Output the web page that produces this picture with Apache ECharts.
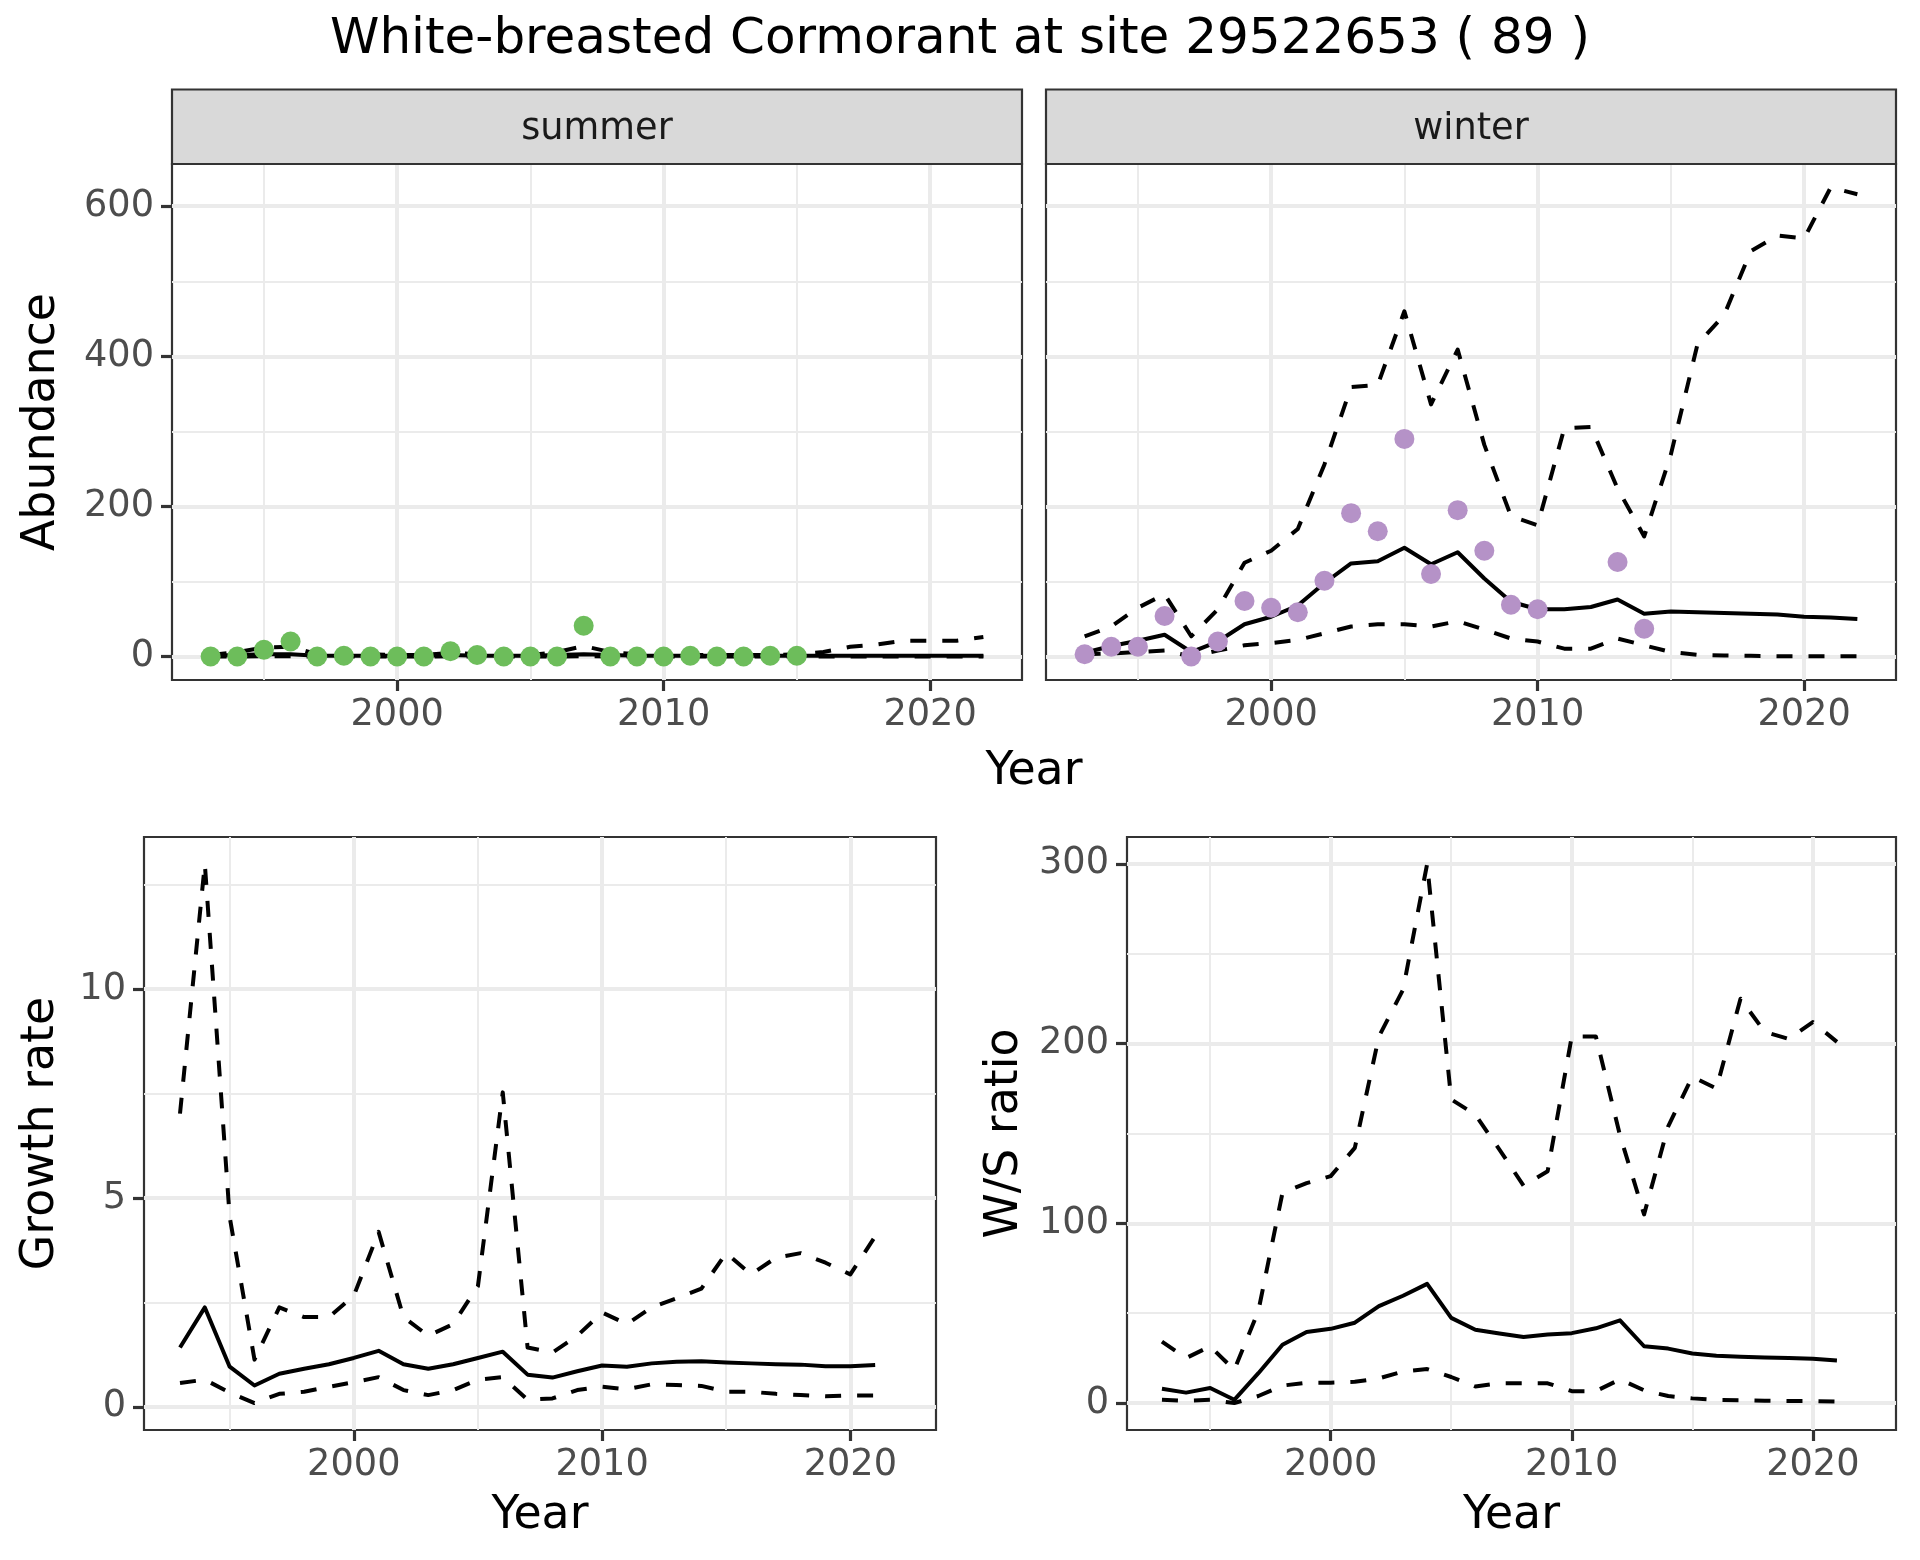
<!DOCTYPE html>
<html>
<head>
<meta charset="utf-8">
<script src="https://cdn.jsdelivr.net/npm/echarts@6/dist/echarts.min.js"></script>
<style>html,body{margin:0;padding:0;background:#fff}#c{width:1920px;height:1560px}</style>
</head>
<body>
<div id="c"></div>
<script>
// ---------------- data ----------------
const titleText = 'White-breasted Cormorant at site 29522653 ( 89 )';
const xRange = [1993, 2022];
const years = [1993,1994,1995,1996,1997,1998,1999,2000,2001,2002,2003,2004,2005,2006,2007,2008,2009,2010,2011,2012,2013,2014,2015,2016,2017,2018,2019,2020,2021,2022];
const yearsRatio = years.slice(0, 29); // 1993-2021

const xMajorTicks = [2000, 2010, 2020];
const xMinorTicks = [1995, 2005, 2015];
const abundMajorTicks = [0, 200, 400, 600];
const abundMinorTicks = [100, 300, 500];
const growthMajorTicks = [0, 5, 10];
const growthMinorTicks = [2.5, 7.5, 12.5];
const wsMajorTicks = [0, 100, 200, 300];
const wsMinorTicks = [50, 150, 250];

// summer
const summerPointYears = [1993,1994,1995,1996,1997,1998,1999,2000,2001,2002,2003,2004,2005,2006,2007,2008,2009,2010,2011,2012,2013,2014,2015];
const summerPointValues = [0,0,9,20,0,1,0,0,0,7,2,0,0,0,41,0,0,0,1,0,0,1,1];
const summerMedian = [1,2,3,3,1,1,1,1,1,2,1,1,1,2,3,2,1,1,1,1,1,1,1,1,1,1,1,1,1,1];
const summerUpper  = [2,6,12,13,3,3,3,2,2,5,3,2,2,6,14,6,3,2,2,2,2,2,3,6,13,16,21,21,21,26];
const summerLower  = [0,0,0.5,0.5,0,0,0,0,0,0.3,0,0,0,0,0.5,0,0,0,0,0,0,0,0,0,0,0,0,0,0,0];

// winter
const winterPointYears = [1993,1994,1995,1996,1997,1998,1999,2000,2001,2002,2003,2004,2005,2006,2007,2008,2009,2010,2013,2014];
const winterPointValues = [3,13,13,54,0,20,74,65,59,101,191,167,290,110,195,141,69,63,126,37];
const winterMedian = [5,14,21,29,6,20,43,53,68,98,124,127,145,123,139,104,73,63,63,66,76,57,60,59,58,57,56,53,52,50];
const winterUpper  = [27,40,65,83,27,63,125,141,170,256,359,362,460,336,409,282,187,175,304,306,224,160,269,416,455,540,561,557,625,616];
const winterLower  = [3,4,6,8,0,8,15,18,22,31,40,43,43,40,47,36,24,20,10.5,10.5,24,15,6,2.3,1.4,1,0.5,0.5,0.5,0.5];

// growth rate (1993-2021)
const growthMedian = [1.42,2.38,0.96,0.51,0.79,0.91,1.02,1.17,1.34,1.02,0.91,1.02,1.17,1.32,0.77,0.70,0.85,0.99,0.96,1.04,1.08,1.09,1.06,1.04,1.02,1.01,0.97,0.97,1.00];
const growthUpper  = [7.02,13.0,4.55,1.13,2.38,2.15,2.15,2.66,4.19,2.15,1.70,1.98,2.89,7.53,1.42,1.30,1.70,2.26,1.98,2.38,2.60,2.83,3.68,3.17,3.57,3.68,3.45,3.17,4.08];
const growthLower  = [0.57,0.65,0.34,0.09,0.31,0.36,0.48,0.59,0.71,0.40,0.28,0.40,0.65,0.71,0.17,0.20,0.40,0.48,0.42,0.54,0.52,0.50,0.36,0.36,0.31,0.28,0.25,0.27,0.27];

// W/S ratio (1993-2021)
const wsMedian = [7.9,5.8,8.4,1.8,16.6,32.4,39.5,41.3,44.7,53.9,59.7,66.3,47.4,40.8,38.7,36.8,38.2,38.9,41.6,46.0,31.6,30.3,27.6,26.3,25.8,25.3,25.0,24.7,23.7];
const wsUpper  = [34.2,25,31.6,18.4,51.3,117,122.4,126.3,142,204,230,300,169,160.5,141,121,129,204,204,149,105,154,181.6,175,225,206.6,202.6,212,201];
const wsLower  = [1.8,1.3,1.8,0,3.9,9.7,11.3,11.3,11.8,13.7,17.6,18.9,14.5,9.2,11,11,11,6.6,6.6,13.2,7.1,3.9,2.6,1.8,1.6,1.3,1.1,1.1,0.8];

// ---------------- helpers ----------------
function expandRange(arrays) {
  let lo = Infinity, hi = -Infinity;
  arrays.forEach(a => a.forEach(v => { if (v < lo) lo = v; if (v > hi) hi = v; }));
  const pad = (hi - lo) * 0.05;
  return [lo - pad, hi + pad];
}
const xR = expandRange([xRange]);
const abundR = expandRange([summerPointValues, summerMedian, summerUpper, summerLower, winterPointValues, winterMedian, winterUpper, winterLower]);
const growthR = expandRange([growthMedian, growthUpper, growthLower]);
const wsR = expandRange([wsMedian, wsUpper, wsLower]);

const pairs = (xs, ys) => xs.map((x, i) => [x, ys[i]]);
const plain = v => String(v);
const FONT = 'DejaVu Sans';
const GRID_MAJOR = '#EBEBEB';
const DARK = '#333333';
const LABEL = '#4D4D4D';
const GREEN = '#6DBD5B';
const PURPLE = '#B592C7';
const DASH = [16, 16];
const AXIS_TEXT = 36.7;
const AXIS_TITLE = 45.8;

const grids = [
  {left: 172, top: 164, width: 850, height: 516},
  {left: 1046, top: 164, width: 850, height: 516},
  {left: 144, top: 837, width: 792, height: 593},
  {left: 1127, top: 837, width: 769, height: 593}
].map(g => Object.assign({show: true, borderColor: DARK, borderWidth: 2.2, backgroundColor: '#fff', containLabel: false, outerBoundsMode: 'none'}, g));

const yConf = [
  {r: abundR, major: abundMajorTicks, minor: abundMinorTicks, labels: true, name: 'Abundance', gap: 106.5},
  {r: abundR, major: abundMajorTicks, minor: abundMinorTicks, labels: false, name: '', gap: 0},
  {r: growthR, major: growthMajorTicks, minor: growthMinorTicks, labels: true, name: 'Growth rate', gap: 79.5},
  {r: wsR, major: wsMajorTicks, minor: wsMinorTicks, labels: true, name: 'W/S ratio', gap: 98.5}
];
const xNames = ['', '', 'Year', 'Year'];

const xAxes = [], yAxes = [];
for (let i = 0; i < 4; i++) {
  xAxes.push({
    type: 'value', gridIndex: i, position: 'bottom', min: xR[0], max: xR[1],
    axisLine: {show: false, onZero: false},
    axisTick: {show: true, length: 11, lineStyle: {color: DARK, width: 3.2}, customValues: xMajorTicks},
    axisLabel: {show: true, customValues: xMajorTicks, formatter: plain, margin: 17, fontSize: AXIS_TEXT, color: LABEL, fontFamily: FONT},
    splitLine: {show: true, lineStyle: {color: GRID_MAJOR, width: 4}},
    name: xNames[i], nameLocation: 'middle', nameGap: 63,
    nameTextStyle: {fontSize: AXIS_TITLE, color: '#000', fontFamily: FONT}
  });
  xAxes.push({
    type: 'value', gridIndex: i, position: 'top', min: xR[0], max: xR[1],
    axisLine: {show: false, onZero: false},
    axisTick: {show: false, customValues: xMinorTicks},
    axisLabel: {show: false, customValues: xMinorTicks},
    splitLine: {show: true, lineStyle: {color: GRID_MAJOR, width: 2}}
  });
  const c = yConf[i];
  yAxes.push({
    type: 'value', gridIndex: i, position: 'left', min: c.r[0], max: c.r[1],
    axisLine: {show: false, onZero: false},
    axisTick: {show: c.labels, length: 11, lineStyle: {color: DARK, width: 3.2}, customValues: c.major},
    axisLabel: {show: c.labels, customValues: c.major, formatter: plain, margin: 18, fontSize: AXIS_TEXT, color: LABEL, fontFamily: FONT},
    splitLine: {show: true, lineStyle: {color: GRID_MAJOR, width: 4}},
    name: c.name, nameLocation: 'middle', nameGap: c.gap, nameRotate: 90,
    nameTextStyle: {fontSize: AXIS_TITLE, color: '#000', fontFamily: FONT}
  });
  yAxes.push({
    type: 'value', gridIndex: i, position: 'right', min: c.r[0], max: c.r[1],
    axisLine: {show: false, onZero: false},
    axisTick: {show: false, customValues: c.minor},
    axisLabel: {show: false, customValues: c.minor},
    splitLine: {show: true, lineStyle: {color: GRID_MAJOR, width: 2}}
  });
}

function lineSeries(g, xs, ys, dashed) {
  return {
    type: 'line', xAxisIndex: 2 * g, yAxisIndex: 2 * g, data: pairs(xs, ys),
    symbol: 'none', showSymbol: false, silent: true, z: 3,
    lineStyle: {color: '#000', width: 4, type: dashed ? DASH : 'solid', cap: 'butt', join: 'round'}
  };
}
function pointSeries(g, xs, ys, color) {
  return {
    type: 'scatter', xAxisIndex: 2 * g, yAxisIndex: 2 * g, data: pairs(xs, ys),
    symbol: 'circle', symbolSize: 20, silent: true, z: 4,
    itemStyle: {color: color, opacity: 1, borderWidth: 0}
  };
}

const series = [
  lineSeries(0, years, summerLower, true),
  lineSeries(0, years, summerUpper, true),
  lineSeries(0, years, summerMedian, false),
  pointSeries(0, summerPointYears, summerPointValues, GREEN),
  lineSeries(1, years, winterLower, true),
  lineSeries(1, years, winterUpper, true),
  lineSeries(1, years, winterMedian, false),
  pointSeries(1, winterPointYears, winterPointValues, PURPLE),
  lineSeries(2, yearsRatio, growthLower, true),
  lineSeries(2, yearsRatio, growthUpper, true),
  lineSeries(2, yearsRatio, growthMedian, false),
  lineSeries(3, yearsRatio, wsLower, true),
  lineSeries(3, yearsRatio, wsUpper, true),
  lineSeries(3, yearsRatio, wsMedian, false)
];

const stripText = ['summer', 'winter'];
const graphic = [];
[0, 1].forEach(i => {
  const g = grids[i];
  graphic.push({type: 'rect', shape: {x: g.left, y: 89.5, width: g.width, height: g.top - 89.5},
    style: {fill: '#D9D9D9', stroke: DARK, lineWidth: 2.2}, z: 10});
  graphic.push({type: 'text', x: g.left + g.width / 2, y: 129, z: 11,
    style: {text: stripText[i], fontSize: AXIS_TEXT, fill: '#1A1A1A', fontFamily: FONT, align: 'center', verticalAlign: 'middle'}});
});
graphic.push({type: 'text', x: 960, y: 40, z: 11,
  style: {text: titleText, fontSize: 50, fill: '#000', fontFamily: FONT, align: 'center', verticalAlign: 'middle'}});
graphic.push({type: 'text', x: (grids[0].left + grids[1].left + grids[1].width) / 2, y: 772, z: 11,
  style: {text: 'Year', fontSize: AXIS_TITLE, fill: '#000', fontFamily: FONT, align: 'center', verticalAlign: 'middle'}});

const chart = echarts.init(document.getElementById('c'), null, {renderer: 'canvas', width: 1920, height: 1560});
chart.setOption({
  animation: false,
  backgroundColor: '#fff',
  textStyle: {fontFamily: FONT},
  grid: grids,
  xAxis: xAxes,
  yAxis: yAxes,
  series: series,
  graphic: graphic
});
</script>
</body>
</html>
